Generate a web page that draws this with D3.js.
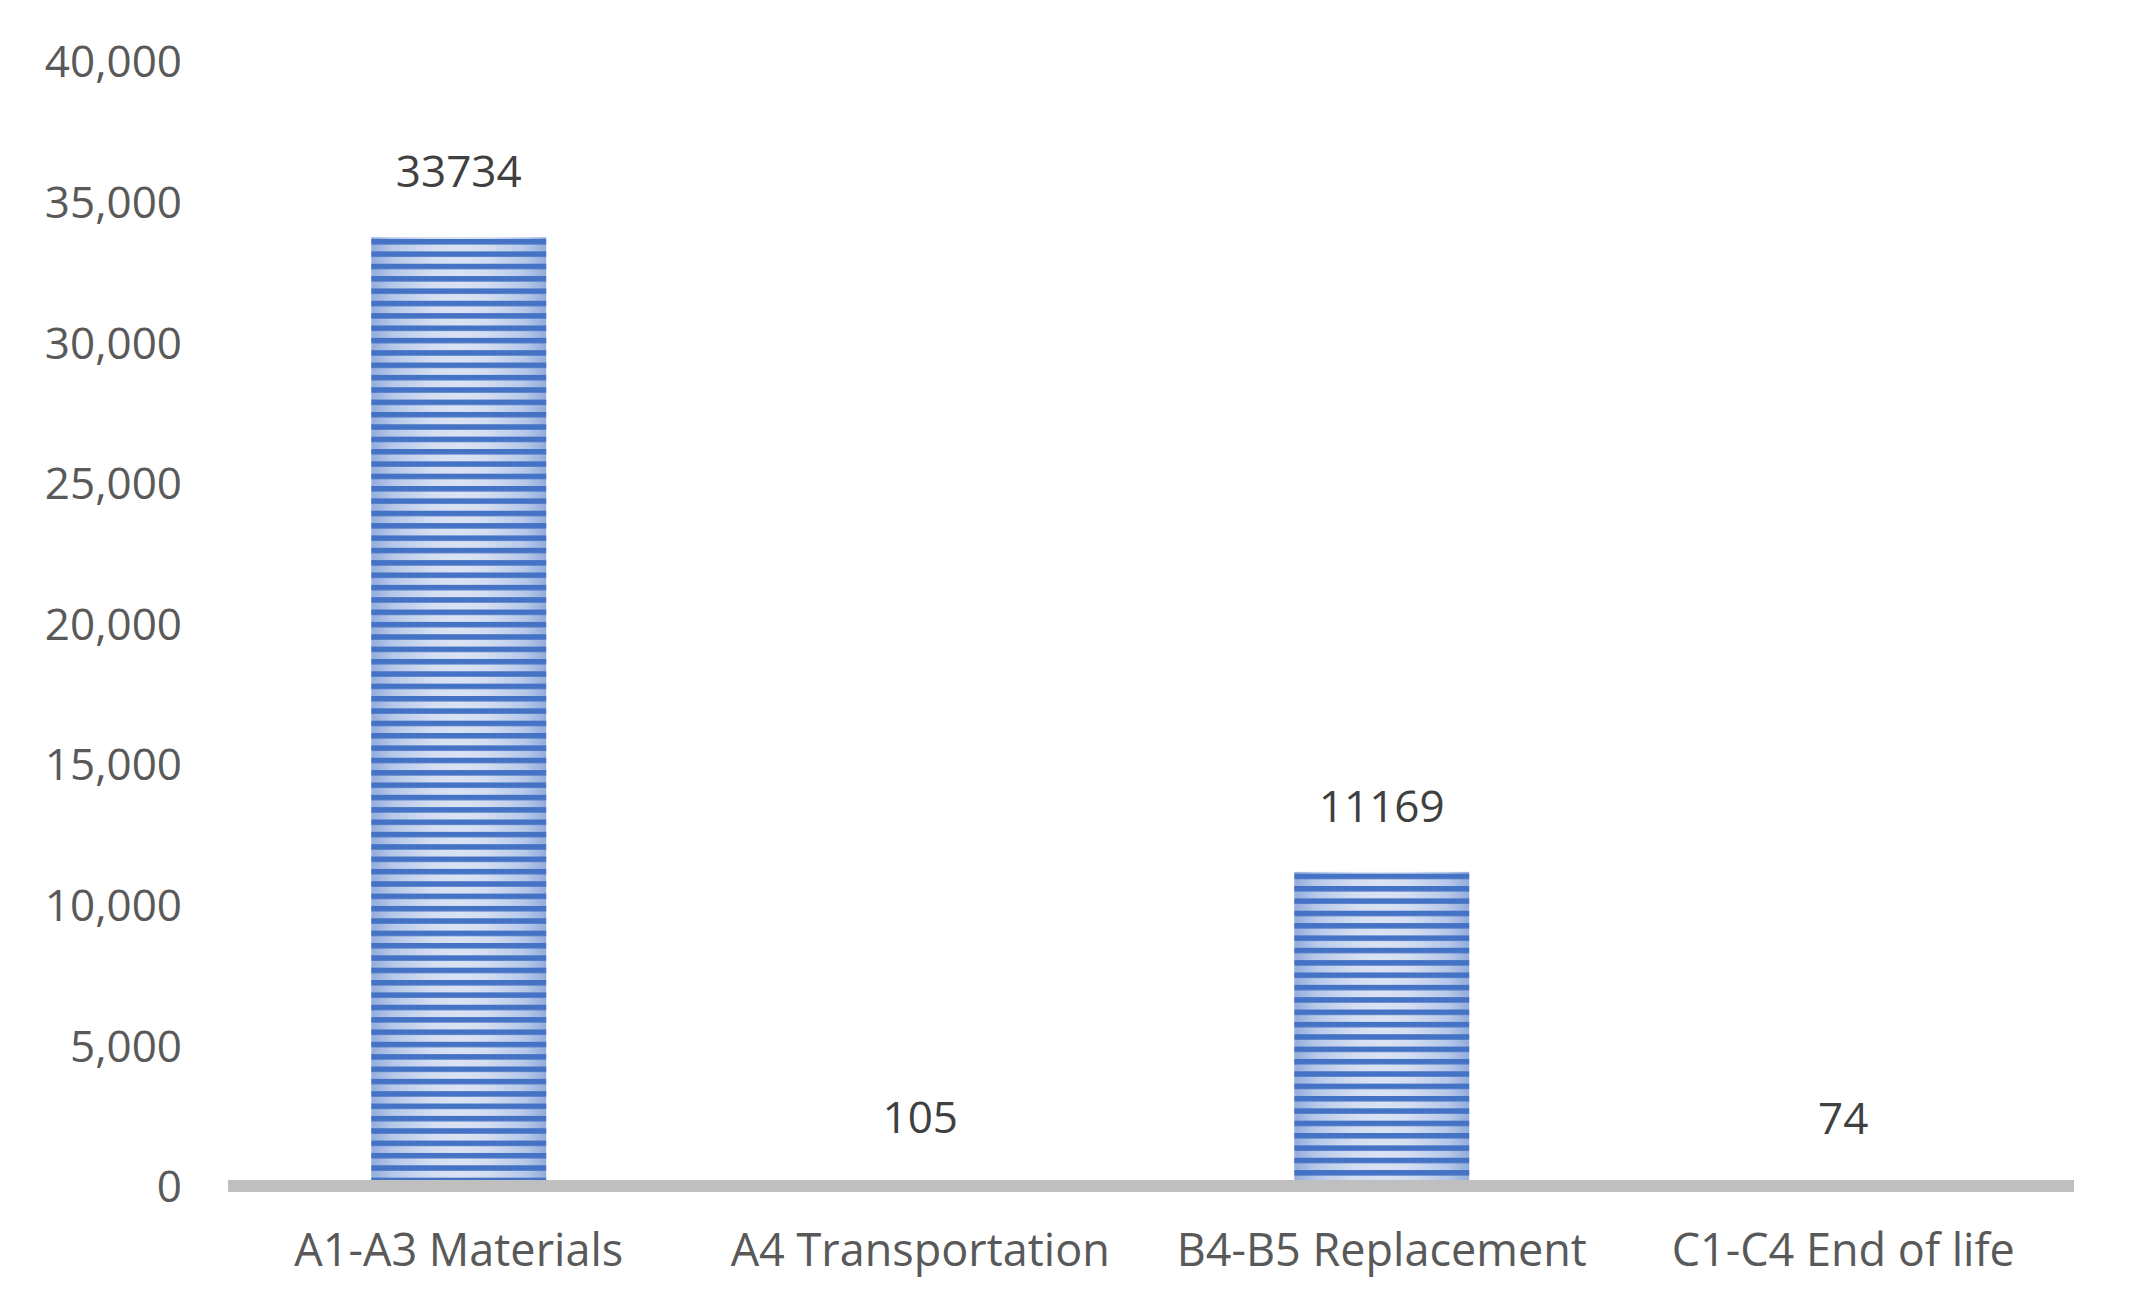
<!DOCTYPE html>
<html>
<head>
<meta charset="utf-8">
<script src="https://cdn.jsdelivr.net/npm/d3@7"></script>
<style>
  html, body { margin: 0; padding: 0; background: #ffffff; }
  svg { display: block; }
</style>
</head>
<body>
<svg id="chart" width="2130" height="1314"></svg>
<script>
// ---- data ----
const categories = ["A1-A3 Materials", "A4 Transportation", "B4-B5 Replacement", "C1-C4 End of life"];
const values = [33734, 105, 11169, 74];
const yTicks = [0, 5000, 10000, 15000, 20000, 25000, 30000, 35000, 40000];
const yMax = 40000;

// ---- layout ----
const W = 2130, H = 1314;
const plotLeft = 228, plotRight = 2074;
const yZero = 1186, yTop = 61;
const FONT = "'Open Sans', 'Noto Sans', sans-serif";

const svg = d3.select("#chart");
const defs = svg.append("defs");

const x = d3.scaleBand()
  .domain(categories)
  .range([plotLeft, plotRight])
  .paddingInner(0.621)
  .paddingOuter(0.3105);

const y = d3.scaleLinear().domain([0, yMax]).range([yZero, yTop]);

// horizontal gradient for the light bands
const grad = defs.append("linearGradient")
  .attr("id", "lightGrad")
  .attr("x1", "0").attr("x2", "1").attr("y1", "0").attr("y2", "0");
[[0, "#93acdc"], [0.12, "#b6c8e9"], [0.35, "#d4def1"], [0.5, "#dae3f3"],
 [0.65, "#d4def1"], [0.88, "#b6c8e9"], [1, "#93acdc"]].forEach(([o, c]) => {
  grad.append("stop").attr("offset", o).attr("stop-color", c);
});

const bars = categories.map((c, i) => ({ cat: c, val: values[i], i }));

// stripe patterns, one per bar so stripes align with each bar top
const period = 12.35, darkH = 5.5;
bars.forEach(d => {
  const top = y(d.val);
  const p = defs.append("pattern")
    .attr("id", "stripes" + d.i)
    .attr("patternUnits", "userSpaceOnUse")
    .attr("x", 0).attr("y", top + 1.8)
    .attr("width", 20).attr("height", period);
  p.append("rect").attr("x", 0).attr("y", 0).attr("width", 20).attr("height", darkH)
    .attr("fill", "#4472c4");
});

const g = svg.append("g");

// bars: gradient base + stripe overlay
g.selectAll("rect.base").data(bars).join("rect")
  .attr("class", "base")
  .attr("x", d => x(d.cat))
  .attr("width", x.bandwidth())
  .attr("y", d => y(d.val))
  .attr("height", d => yZero - y(d.val))
  .attr("fill", "url(#lightGrad)");

g.selectAll("rect.stripe").data(bars).join("rect")
  .attr("class", "stripe")
  .attr("x", d => x(d.cat))
  .attr("width", x.bandwidth())
  .attr("y", d => y(d.val))
  .attr("height", d => yZero - y(d.val))
  .attr("fill", d => "url(#stripes" + d.i + ")");

// y axis (labels only)
const yAxis = svg.append("g")
  .attr("transform", "translate(182,0)")
  .call(d3.axisLeft(y).tickValues(yTicks).tickFormat(d3.format(",")).tickSize(0).tickPadding(0));
yAxis.select(".domain").remove();
yAxis.selectAll("text")
  .attr("font-family", FONT)
  .attr("font-size", 44)
  .attr("fill", "#595959")
  .attr("dy", "0.36em");

// x axis line
svg.append("line")
  .attr("x1", plotLeft).attr("x2", plotRight)
  .attr("y1", yZero).attr("y2", yZero)
  .attr("stroke", "#bfbfbf").attr("stroke-width", 12);

// x axis labels
const xAxis = svg.append("g")
  .attr("transform", `translate(0,${yZero})`)
  .call(d3.axisBottom(x).tickSize(0));
xAxis.select(".domain").remove();
xAxis.selectAll("text")
  .attr("font-family", FONT)
  .attr("font-size", 45)
  .attr("fill", "#595959")
  .attr("y", 80)
  .attr("dy", 0);

// data labels
g.selectAll("text.val").data(bars).join("text")
  .attr("class", "val")
  .attr("x", d => x(d.cat) + x.bandwidth() / 2)
  .attr("y", d => y(d.val) - 50)
  .attr("text-anchor", "middle")
  .attr("font-family", FONT)
  .attr("font-size", 44)
  .attr("fill", "#404040")
  .text(d => d.val);
</script>
</body>
</html>
